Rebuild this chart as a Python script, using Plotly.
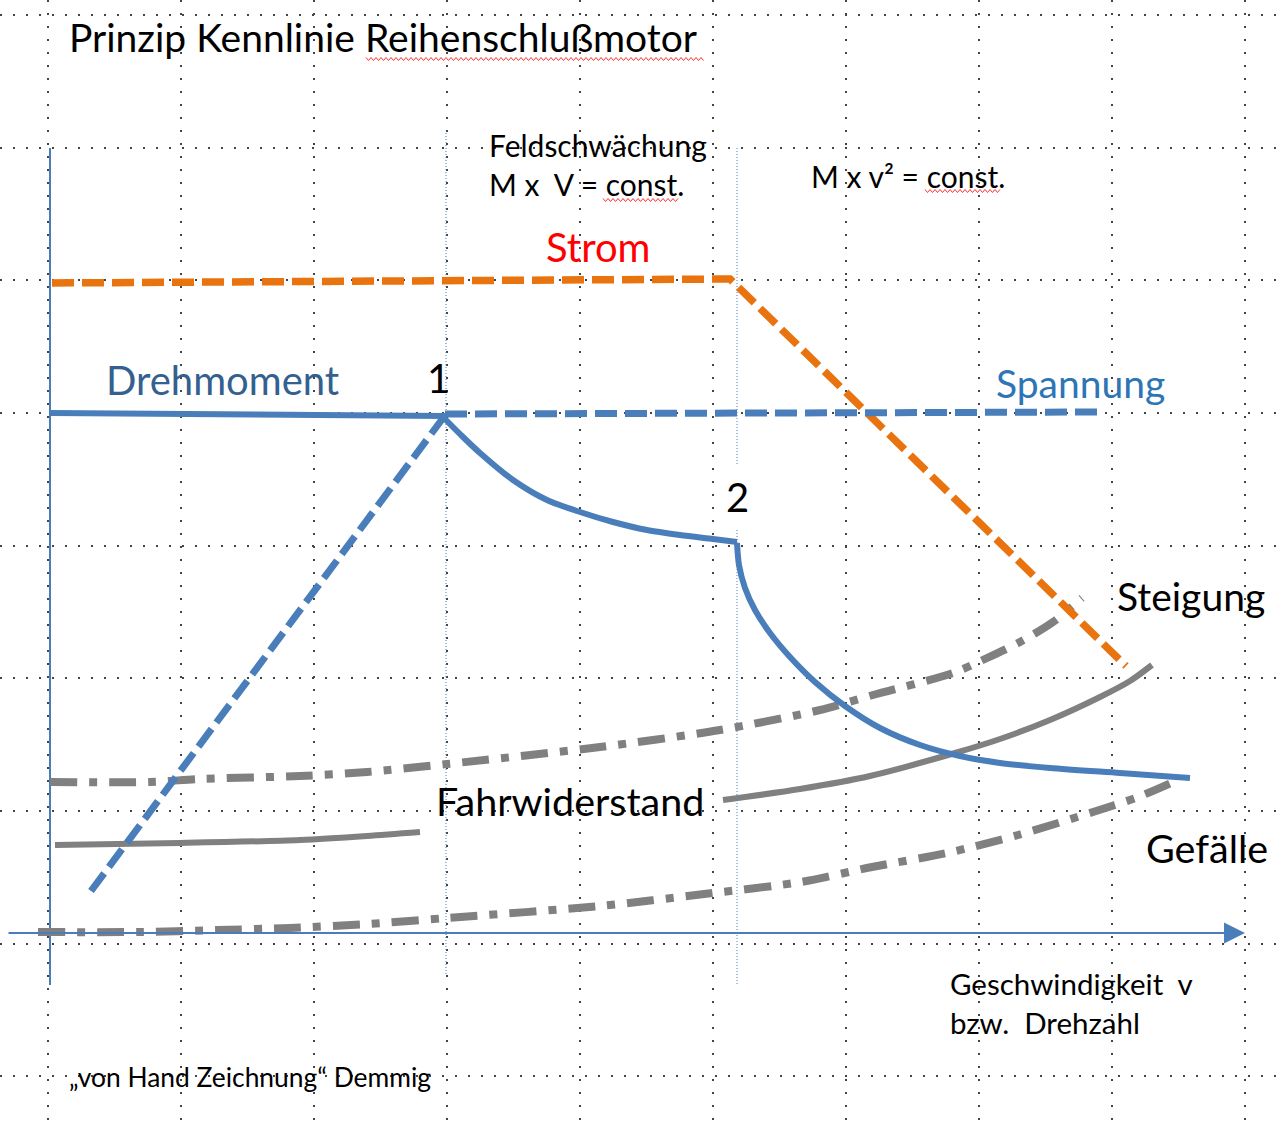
import plotly.graph_objects as go

# ---- data (diagram units: x = speed position, y = level, downward) ----
strom_x = [52, 730, 1126]
strom_y = [283, 279, 666]

moment_const_x = [50, 200, 350, 445]
moment_const_y = [413, 414, 414, 416]
moment_fw_x = [443, 463, 480, 513, 547, 580, 613, 647, 680, 713, 737]
moment_fw_y = [417, 437, 453, 480, 500, 512, 522, 530, 535, 539, 542]
moment_v2_x = [737, 739, 745, 755, 770, 790, 815, 845, 880, 920, 960, 1000, 1050, 1120, 1190]
moment_v2_y = [543, 565, 588, 610, 633, 657, 682, 706, 728, 745, 756, 763, 768, 773, 778]

spannung_rise_x = [91, 443]
spannung_rise_y = [891, 418]
spannung_const_x = [445, 1105]
spannung_const_y = [414, 412]

steigung_x = [50, 150, 200, 300, 367, 447, 600, 720, 820, 873, 953, 987, 1020, 1053, 1082]
steigung_y = [782, 782, 779, 776, 772, 764, 747, 730, 710, 695, 673, 658, 642, 622, 598]

gefaelle_x = [38, 140, 217, 290, 367, 447, 600, 713, 801, 872, 947, 1018, 1093, 1138, 1180]
gefaelle_y = [932, 932, 930, 928, 924, 918, 906, 893, 882, 867, 853, 835, 812, 797, 779]

fahrw_left_x = [55, 180, 300, 367, 420]
fahrw_left_y = [845, 843, 840, 836, 832]
fahrw_right_x = [723, 800, 870, 955, 1000, 1050, 1100, 1130, 1152]
fahrw_right_y = [800, 789, 776, 753, 739, 720, 697, 681, 665]

v_axis_x = [50, 50]
v_axis_y = [148, 985]
h_axis_x = [7, 1245]
h_axis_y = [933, 933]

guide1_x = [446, 446]
guide1_y = [133, 975]
guide2a_x = [737, 737]
guide2a_y = [148, 465]
guide2b_x = [737, 737]
guide2b_y = [530, 985]

labels = [
    ("Prinzip Kennlinie Reihenschlußmotor", 67, 37, 39, "#000000"),
    ("Feldschwächung", 487, 145, 30, "#000000"),
    ("M x  V = const.", 487, 184, 30, "#000000"),
    ("M x v² = const.", 809, 176, 30, "#000000"),
    ("Strom", 544, 247, 40, "#FF0000"),
    ("Drehmoment", 104, 380, 40, "#34608F"),
    ("1", 425, 378, 40, "#000000"),
    ("2", 724, 497, 40, "#000000"),
    ("Spannung", 994, 383, 39, "#2E75B6"),
    ("Steigung", 1115, 596, 39, "#000000"),
    ("Fahrwiderstand", 434, 800, 39.5, "#000000"),
    ("Gefälle", 1144, 847, 39.5, "#000000"),
    ("Geschwindigkeit  v", 948, 983, 29.5, "#000000"),
    ("bzw.  Drehzahl", 948, 1022, 29.5, "#000000"),
    ("„von Hand Zeichnung“ Demmig", 67, 1077, 26.4, "#000000"),
]

FONT = "Lato, 'Open Sans', sans-serif"
BLUE = "#4A7EBB"
ORANGE = "#E8730F"
GRAY = "#808080"

fig = go.Figure()

def line(x, y, color, width, dash="solid", shape="spline"):
    fig.add_trace(go.Scatter(x=x, y=y, mode="lines", hoverinfo="skip",
                             line=dict(color=color, width=width, dash=dash, shape=shape,
                                       smoothing=0.8 if shape == "spline" else None)))

# guides and axis
line(guide1_x, guide1_y, BLUE, 1, "1px,2px", "linear")
line(guide2a_x, guide2a_y, BLUE, 1, "1px,2px", "linear")
line(guide2b_x, guide2b_y, BLUE, 1, "1px,2px", "linear")
line(v_axis_x, v_axis_y, BLUE, 2, "solid", "linear")

# curves
line(gefaelle_x, gefaelle_y, GRAY, 8, "27px,12px,8px,12px")
line(steigung_x, steigung_y, GRAY, 8, "27px,12px,8px,12px")
line(fahrw_left_x, fahrw_left_y, GRAY, 6)
line(fahrw_right_x, fahrw_right_y, GRAY, 6)
line(strom_x, strom_y, ORANGE, 7.5, "22px,8px", "linear")
line(spannung_rise_x, spannung_rise_y, BLUE, 7, "22px,8px", "linear")
line(spannung_const_x, spannung_const_y, BLUE, 7, "22px,8px", "linear")
line(moment_const_x, moment_const_y, BLUE, 6, "solid", "linear")
line(moment_fw_x, moment_fw_y, BLUE, 6)
line(moment_v2_x, moment_v2_y, BLUE, 6)

annotations = []
for txt, x, y, size, color in labels:
    annotations.append(dict(text=txt, x=x, y=y, xref="x", yref="y", xanchor="left",
                            yanchor="middle", showarrow=False,
                            font=dict(family=FONT, size=size, color=color)))
# horizontal axis with arrow head
annotations.append(dict(x=h_axis_x[1], y=h_axis_y[1], ax=h_axis_x[0], ay=h_axis_y[0],
                        xref="x", yref="y", axref="x", ayref="y", text="",
                        showarrow=True, arrowhead=2, arrowsize=2.1, arrowwidth=2,
                        arrowcolor=BLUE, standoff=0))

# spell-check wavy underlines
def wavy(x0, x1, y):
    pts = []
    xx = x0
    k = 0
    while xx <= x1:
        pts.append(f"{xx},{y + (1.5 if k % 2 else -1.5)}")
        xx += 2.5
        k += 1
    return "M " + " L ".join(pts)

shapes = [
    dict(type="rect", xref="x", yref="y", x0=60, x1=712, y0=22, y1=88,
         fillcolor="white", line=dict(width=0), layer="below"),
]
for x0, x1, y in [(366, 705, 59), (603, 680, 200), (925, 1001, 191)]:
    shapes.append(dict(type="path", xref="x", yref="y", path=wavy(x0, x1, y),
                       line=dict(color="#FF3030", width=1)))

fig.update_layout(
    width=1286, height=1124,
    margin=dict(l=0, r=0, t=0, b=0),
    paper_bgcolor="white", plot_bgcolor="white",
    showlegend=False,
    annotations=annotations,
    shapes=shapes,
    xaxis=dict(range=[0, 1286], tick0=48, dtick=133, showgrid=True, gridcolor="#444444",
               griddash="2px,11px", gridwidth=2, showticklabels=False, zeroline=False,
               ticks="", showline=False, fixedrange=True),
    yaxis=dict(range=[1124, 0], tick0=15, dtick=132.65, showgrid=True, gridcolor="#444444",
               griddash="2px,11px", gridwidth=2, showticklabels=False, zeroline=False,
               ticks="", showline=False, fixedrange=True),
)

fig.write_html("out.html", post_script="document.body.style.margin='0';",
               config={"displayModeBar": False})
